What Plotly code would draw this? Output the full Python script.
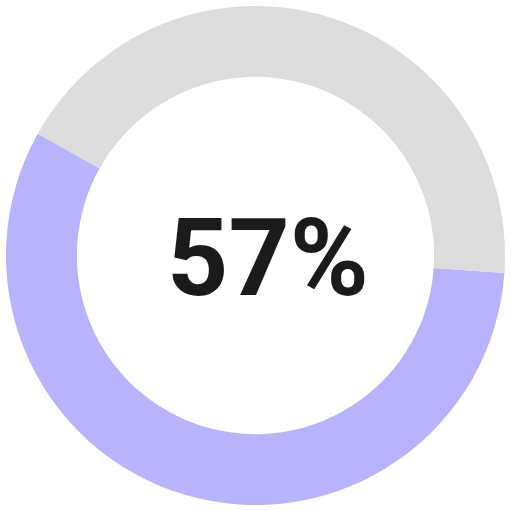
import plotly.graph_objects as go

labels = ["Filled", "Remaining"]
values = [57, 43]
colors = ["#b8b3fc", "#dcdcdc"]

fig = go.Figure(go.Pie(
    labels=labels,
    values=values,
    hole=0.716,
    sort=False,
    direction="clockwise",
    rotation=94,
    marker=dict(colors=colors, line=dict(width=0)),
    textinfo="none",
    hoverinfo="none",
    showlegend=False,
    domain=dict(x=[6/511, 505/511], y=[6/511, 505/511]),
))

fig.add_annotation(
    text=f"<b>{values[0]}%</b>",
    x=268/511, y=1 - 258/511, xref="paper", yref="paper",
    xanchor="center", yanchor="middle",
    showarrow=False,
    font=dict(family="Roboto, Liberation Sans, Arial, sans-serif", size=107, color="#1c1a1a"),
)

fig.update_layout(
    width=511, height=511,
    margin=dict(l=0, r=0, t=0, b=0),
    paper_bgcolor="white", plot_bgcolor="white",
)

fig.write_html(
    "out.html",
    config={"displayModeBar": False, "staticPlot": True},
    post_script="document.body.style.margin='0';document.body.style.overflow='hidden';",
)
